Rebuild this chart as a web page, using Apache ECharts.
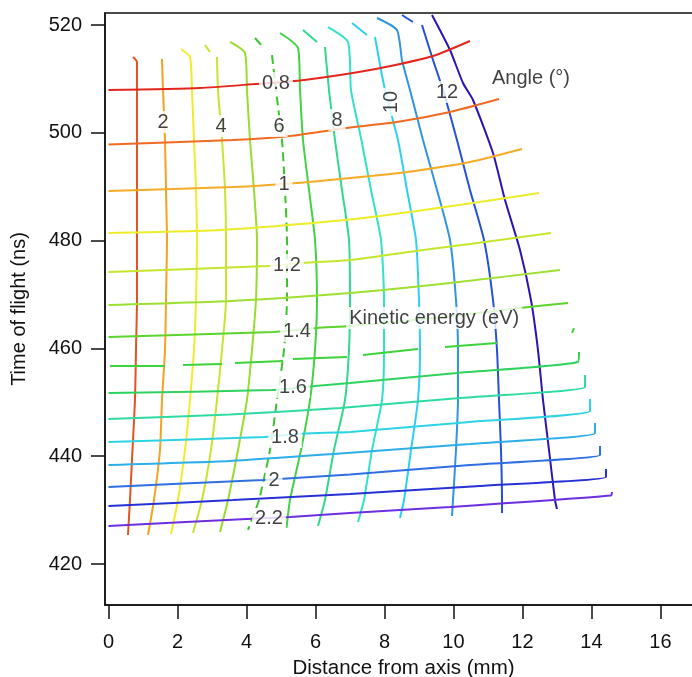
<!DOCTYPE html>
<html><head><meta charset="utf-8">
<script src="https://cdn.jsdelivr.net/npm/echarts@6/dist/echarts.min.js"></script>
<style>html,body{margin:0;padding:0;background:#fff}#c{width:692px;height:677px}</style>
</head><body><div id="c"></div>
<script>
const xTicks = [0, 2, 4, 6, 8, 10, 12, 14, 16];
const yTicks = [420, 440, 460, 480, 500, 520];
const G = ['-', '-'];
const energyValues = [0.8, 0.9, 1.0, 1.1, 1.2, 1.3, 1.4, 1.5, 1.6, 1.7, 1.8, 1.9, 2.0, 2.1, 2.2];
const angleValues = [1, 2, 3, 4, 5, 6, 7, 8, 9, 10, 11, 12, 13];

const energyCurves = [
  [[0,507.94],[2.652,508.31],[4.246,509.05],[5.551,509.70],[6.71,510.72],[7.957,512.11],[9.406,514.25],[10.478,517.03]],
  [[0,497.83],[3.609,498.66],[5.261,499.41],[7.0,500.98],[8.362,502.0],[9.899,503.86],[11.319,506.27]],
  [[0,489.20],[3.609,489.94],[5.464,490.69],[7.0,491.61],[8.652,492.73],[10.478,494.58],[11.986,496.99]],
  [[0,481.41],[3.232,481.97],[6.855,483.82],[8.739,485.31],[10.565,486.98],[12.478,488.83]],
  [[0,474.17],[4.594,475.29],[5.783,475.94],[7.0,476.40],[9.116,478.26],[10.478,479.37],[12.826,481.41]],
  [[0,468.05],[3.522,468.79],[7.0,470.28],[9.899,472.13],[13.087,474.55]],
  [[0,462.12],[4.768,463.04],[6.043,463.78],[7.0,464.16],[9.464,465.64],[11.928,467.49],[13.319,468.42]],
  [[0.043,456.73],[1.638,456.73],G,[2.159,456.92],[3.290,457.10],G,[3.667,457.29],[5.058,457.66],G,[5.348,458.03],[6.913,458.40],G,[7.377,458.78],[8.971,459.89],G,[9.754,460.26],[11.261,461.00],G,[13.435,462.86],[13.493,463.78]],
  [[0,451.73],[4.739,452.28],[5.986,453.03],[7.0,453.59],[10.101,455.44],[13.609,457.48],[13.638,459.33]],
  [[0,446.90],[3.522,447.74],[6.71,448.95],[10.188,450.80],[13.812,452.84],[13.812,455.06]],
  [[0,442.63],[4.536,443.56],[5.696,444.22],[7.0,444.50],[10.478,446.35],[13.957,448.39],[13.957,450.61]],
  [[0,438.37],[3.522,439.11],[6.71,440.50],[10.478,442.26],[14.101,444.25],[14.101,446.16]],
  [[0,434.29],[4.478,435.58],[5.174,435.86],[7.0,436.60],[10.478,438.37],[14.246,440.22],[14.246,441.89]],
  [[0,430.76],[3.609,431.87],[7.0,432.99],[10.768,434.47],[14.42,436.14],[14.42,437.63]],
  [[0,427.05],[4.01,428.35],[5.261,428.72],[7.0,429.46],[9.899,430.58],[14.565,432.71],[14.594,433.36]]
];

const angleCurves = [
  [[0.710,514.06],[0.826,513.14],[0.826,507.94],[0.826,498.66],[0.826,489.39],[0.826,480.11],[0.826,468.98],[0.797,459.70],[0.768,450.43],[0.696,441.15],[0.623,431.87],[0.565,425.38]],
  [[1.551,513.69],[1.580,507.94],[1.638,498.66],[1.667,489.39],[1.696,480.11],[1.667,468.98],[1.638,459.70],[1.551,450.43],[1.493,441.15],[1.319,431.87],[1.145,425.38]],
  [[2.101,515.55],[2.362,514.06],[2.420,507.94],[2.478,498.66],[2.536,489.39],[2.565,480.11],[2.536,468.98],[2.478,459.70],[2.362,450.43],[2.217,441.15],[2.014,431.87],[1.812,425.57]],
  [[2.797,516.29],[2.942,514.99],G,[3.145,514.06],[3.174,507.94],[3.290,498.66],[3.377,489.39],[3.406,480.11],[3.406,468.98],[3.290,459.70],[3.145,450.43],[2.971,441.15],[2.710,431.87],[2.449,425.75]],
  [[3.522,516.85],[3.957,514.81],[4.014,507.94],[4.101,498.66],[4.217,489.39],[4.304,480.11],[4.275,468.98],[4.159,459.70],[4.014,450.43],[3.754,441.15],[3.464,431.87],[3.232,425.94]],
  [[4.246,517.59],[4.478,515.92],G,[4.739,514.43],[4.855,507.94],[5.029,498.66],[5.116,489.39],[5.174,480.11],[5.174,468.98],[5.087,459.70],[4.884,450.43],[4.681,441.15],[4.362,431.87],[4.043,426.31]],
  [[4.971,518.52],[5.493,515.73],[5.551,507.94],[5.638,498.66],[5.812,489.39],[5.986,480.11],[6.043,468.98],[5.986,459.70],[5.841,450.43],[5.580,441.15],[5.261,431.87],[5.16,426.68]],
  [[5.638,519.07],[6.043,516.85],G,[6.275,515.92],[6.391,507.94],[6.565,498.66],[6.768,489.39],[6.971,480.11],[7.0,468.98],[6.971,459.70],[6.855,450.43],[6.536,441.15],[6.275,431.87],[6.072,427.05]],
  [[6.362,519.63],[6.942,516.85],[7.029,507.94],[7.33,498.66],[7.609,489.39],[7.899,480.11],[7.986,468.98],[7.986,459.70],[7.928,450.43],[7.638,441.15],[7.406,431.87],[7.232,427.79]],
  [[7.058,520.37],[7.493,518.14],G,[7.725,517.77],[8.014,507.94],[8.391,498.66],[8.652,489.39],[8.913,480.11],[9.0,468.98],[9.029,459.70],[8.971,450.43],[8.768,441.15],[8.565,431.87],[8.449,428.53]],
  [[7.783,521.30],[8.362,519.07],[8.507,513.51],[8.739,507.94],[9.116,498.66],[9.522,489.39],[9.899,480.11],[10.072,468.98],[10.130,459.70],[10.130,450.43],[10.072,441.15],[9.986,431.87],[9.957,428.90]],
  [[8.507,521.86],[8.826,520.56],G,[9.087,520.0],[9.406,513.51],[9.696,507.94],[10.101,498.66],[10.478,489.39],[10.884,480.11],[11.145,468.98],[11.261,459.70],[11.319,450.43],[11.377,441.15],[11.406,431.87],[11.406,429.46]],
  [[9.377,521.86],[9.899,515.36],[10.275,509.24],[10.565,506.09],[11.145,496.25],[11.493,487.53],[11.928,478.26],[12.246,468.98],[12.449,459.70],[12.594,450.43],[12.768,441.15],[12.942,431.87],[13.0,430.20]]
];

// annotation labels: [text, x (mm), y (ns)]
const energyLabels = [
  ['0.8', 4.855, 509.24], ['1', 5.087, 490.32], ['1.2', 5.174, 475.47], ['1.4', 5.464, 463.23],
  ['1.6', 5.348, 452.84], ['1.8', 5.116, 443.56], ['2', 4.797, 435.58], ['2.2', 4.652, 428.35]
];
const angleLabels = [
  ['2', 1.580, 502.0], ['4', 3.261, 501.26], ['6', 4.942, 501.26], ['8', 6.623, 502.37],
  ['10', 8.217, 505.71], ['12', 9.812, 507.57]
];
const titleLabels = [
  ['Angle (°)', 12.246, 510.17], ['Kinetic energy (eV)', 9.44, 465.64]
];
const rotatedAngleLabels = ['10'];

const energyColors = ['#e3261c','#f06a22','#f4ab26','#ecec2a','#c4e62e','#9ee031','#5cd42c','#3ed23c','#2fd25e','#2fdba2','#2ed3e3','#2eaee8','#2f6fe2','#2630d6','#6d2ee0'];
const angleColors = ['#e2531f','#f2a324','#f0ec2a','#c8e42e','#98dc30','#3cc42c','#42d246','#32d88c','#30e2c8','#2ed0ef','#2f93e6','#2550d8','#2c14b4'];

const FONT = "'Liberation Sans', Arial, Helvetica, sans-serif";
const INK = '#111';

const series = [];
angleCurves.forEach((d, i) => {
  series.push({
    type: 'line', name: angleValues[i] + '°', data: d, showSymbol: false, smooth: 0.2,
    connectNulls: false, silent: true, z: 2,
    lineStyle: { color: angleColors[i], width: 2, type: angleValues[i] === 6 ? [9, 5] : 'solid' }
  });
});
energyCurves.forEach((d, i) => {
  series.push({
    type: 'line', name: energyValues[i] + ' eV', data: d, showSymbol: false, smooth: 0.2,
    connectNulls: false, silent: true, z: 3,
    lineStyle: { color: energyColors[i], width: 2 }
  });
});
const labelData = [];
energyLabels.forEach(l => labelData.push({ name: l[0], value: [l[1], l[2]] }));
angleLabels.forEach(l => labelData.push({
  name: l[0], value: [l[1], l[2]],
  label: { rotate: rotatedAngleLabels.indexOf(l[0]) >= 0 ? 90 : 0 }
}));
titleLabels.forEach(l => labelData.push({ name: l[0], value: [l[1], l[2]] }));
series.push({
  type: 'scatter', data: labelData, symbolSize: 1, silent: true, z: 10,
  itemStyle: { color: 'rgba(0,0,0,0)' },
  label: {
    show: true, position: 'inside', formatter: '{b}', fontSize: 20, fontFamily: FONT, color: INK,
    backgroundColor: '#fff', padding: [1, 3]
  }
});

const chart = echarts.init(document.getElementById('c'), null, { renderer: 'canvas' });
chart.setOption({
  animation: false,
  backgroundColor: '#fff',
  grid: {
    left: 105, top: 13, right: -10, bottom: 72, containLabel: false, outerBoundsMode: 'none',
    show: true, borderColor: INK, borderWidth: 1.5, backgroundColor: 'transparent'
  },
  xAxis: {
    type: 'value', min: -0.101, max: 17.203,
    axisLine: { show: true, onZero: false, lineStyle: { color: INK, width: 1.5 } },
    axisTick: { show: true, length: 14, customValues: xTicks, lineStyle: { color: INK, width: 1.5 } },
    axisLabel: { customValues: xTicks, margin: 27, fontSize: 20, color: INK, fontFamily: FONT },
    splitLine: { show: false },
    name: 'Distance from axis (mm)', nameLocation: 'middle', nameGap: 53,
    nameTextStyle: { fontSize: 20.5, color: INK, fontFamily: FONT }
  },
  yAxis: {
    type: 'value', min: 412.39, max: 522.23,
    axisLine: { show: true, onZero: false, lineStyle: { color: INK, width: 1.5 } },
    axisTick: { show: true, length: 14, customValues: yTicks, lineStyle: { color: INK, width: 1.5 } },
    axisLabel: { customValues: yTicks, margin: 23, fontSize: 20, color: INK, fontFamily: FONT },
    splitLine: { show: false },
    name: 'Time of flight (ns)', nameLocation: 'middle', nameGap: 76,
    nameTextStyle: { fontSize: 20, color: INK, fontFamily: FONT }
  },
  series: series
});
</script></body></html>
